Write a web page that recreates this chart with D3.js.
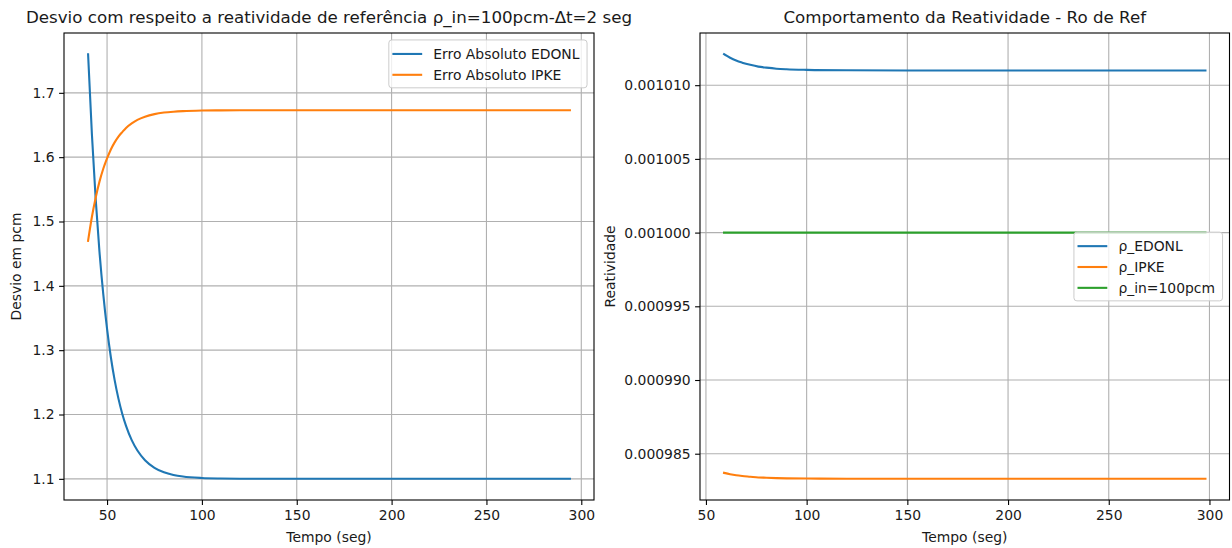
<!DOCTYPE html>
<html>
<head>
<meta charset="utf-8">
<script src="https://cdn.jsdelivr.net/npm/d3@7"></script>
<style>
  html, body { margin: 0; padding: 0; background: #ffffff; }
  svg { display: block; }
  text { font-family: "DejaVu Sans", sans-serif; fill: #1a1a1a; }
</style>
</head>
<body>
<svg id="chart" width="1232" height="548"></svg>
<script>
// Left panel: absolute deviation (pcm) versus time
const leftTime  = [40, 42, 44, 46, 48, 50, 52, 54, 56, 58, 60, 63, 66, 70, 75, 80, 85, 90, 100, 110, 120, 150, 200, 250, 294];
const errEDONL  = [1.760, 1.636, 1.535, 1.453, 1.387, 1.333, 1.289, 1.2535, 1.2247, 1.2012, 1.1822, 1.1601, 1.144, 1.129, 1.1172, 1.1102, 1.1061, 1.1036, 1.1013, 1.1005, 1.1002, 1.1001, 1.1001, 1.1001, 1.1001];
const errIPKE   = [1.470, 1.507, 1.537, 1.562, 1.582, 1.598, 1.612, 1.623, 1.632, 1.639, 1.6455, 1.6526, 1.658, 1.6629, 1.6669, 1.6693, 1.6707, 1.6716, 1.6725, 1.6728, 1.673, 1.673, 1.673, 1.673, 1.673];

// Right panel: reactivity versus time
const rightTime = [59, 62, 65, 68, 72, 76, 80, 85, 90, 100, 120, 150, 200, 250, 298];
const rhoEDONL  = [0.0010121, 0.00101186, 0.00101167, 0.00101153, 0.00101138, 0.00101126, 0.00101119, 0.00101112, 0.00101108, 0.00101104, 0.00101101, 0.0010110, 0.0010110, 0.0010110, 0.0010110];
const rhoIPKE   = [0.00098370, 0.00098361, 0.00098354, 0.00098349, 0.00098344, 0.00098339, 0.00098337, 0.000983345, 0.00098333, 0.000983315, 0.0009833, 0.0009833, 0.0009833, 0.0009833, 0.0009833];
const rhoIn     = [0.001, 0.001, 0.001, 0.001, 0.001, 0.001, 0.001, 0.001, 0.001, 0.001, 0.001, 0.001, 0.001, 0.001, 0.001];

// Tick values
const xTicks      = [50, 100, 150, 200, 250, 300];
const leftYTicks  = [1.1, 1.2, 1.3, 1.4, 1.5, 1.6, 1.7];
const rightYTicks = [0.000985, 0.000990, 0.000995, 0.001000, 0.001005, 0.001010];

// Text
const leftTitle   = "Desvio com respeito a reatividade de referência ρ_in=100pcm-Δt=2 seg";
const rightTitle  = "Comportamento da Reatividade - Ro de Ref";
const xLabel      = "Tempo (seg)";
const leftYLabel  = "Desvio em pcm";
const rightYLabel = "Reatividade";
const leftNames   = ["Erro Absoluto EDONL", "Erro Absoluto IPKE"];
const rightNames  = ["ρ_EDONL", "ρ_IPKE", "ρ_in=100pcm"];

const palette = ["#1f77b4", "#ff7f0e", "#2ca02c"];
const FS = 13.9;        // tick / label / legend font size
const TITLE_FS = 16.7;  // title font size

const svg = d3.select("#chart");
svg.append("rect").attr("width", 1232).attr("height", 548).attr("fill", "#ffffff");

function padded(values) {
  const [lo, hi] = d3.extent(values);
  const m = (hi - lo) * 0.05;
  return [lo - m, hi + m];
}

function drawPanel(cfg) {
  const { box, times, series, names, yTicks, yFmt, title, yLabel, yLabelX, legendPos } = cfg;
  const g = svg.append("g");

  const x = d3.scaleLinear().domain(padded(times)).range([box.x0, box.x1]);
  const y = d3.scaleLinear().domain(padded(series.flat())).range([box.y1, box.y0]);

  const clipId = "clip" + Math.round(box.x0);
  svg.append("clipPath").attr("id", clipId)
    .append("rect").attr("x", box.x0).attr("y", box.y0)
    .attr("width", box.x1 - box.x0).attr("height", box.y1 - box.y0);

  // grid
  g.append("g").selectAll("line").data(xTicks).join("line")
    .attr("x1", d => x(d)).attr("x2", d => x(d))
    .attr("y1", box.y0).attr("y2", box.y1)
    .attr("stroke", "#b0b0b0").attr("stroke-width", 1.1);
  g.append("g").selectAll("line").data(yTicks).join("line")
    .attr("x1", box.x0).attr("x2", box.x1)
    .attr("y1", d => y(d)).attr("y2", d => y(d))
    .attr("stroke", "#b0b0b0").attr("stroke-width", 1.1);

  // series
  const line = d3.line().curve(d3.curveMonotoneX);
  const plot = g.append("g").attr("clip-path", `url(#${clipId})`);
  series.forEach((vals, i) => {
    plot.append("path")
      .attr("d", line(times.map((t, k) => [x(t), y(vals[k])])))
      .attr("fill", "none").attr("stroke", palette[i])
      .attr("stroke-width", 2.1).attr("stroke-linecap", "square");
  });

  // axes
  const xAxis = d3.axisBottom(x).tickValues(xTicks).tickSize(4.9).tickPadding(4.5).tickFormat(d3.format("d"));
  const yAxis = d3.axisLeft(y).tickValues(yTicks).tickSize(4.9).tickPadding(4.5).tickFormat(d3.format(yFmt));
  const ga = g.append("g").attr("transform", `translate(0,${box.y1})`).call(xAxis);
  const gb = g.append("g").attr("transform", `translate(${box.x0},0)`).call(yAxis);
  [ga, gb].forEach(a => {
    a.select(".domain").remove();
    a.selectAll("line").attr("stroke", "#000").attr("stroke-width", 1.1);
    a.selectAll("text").attr("font-size", FS).attr("fill", "#1a1a1a")
      .attr("font-family", '"DejaVu Sans", sans-serif');
  });
  ga.selectAll("text").attr("dy", "0.76em");

  // frame
  g.append("rect").attr("x", box.x0).attr("y", box.y0)
    .attr("width", box.x1 - box.x0).attr("height", box.y1 - box.y0)
    .attr("fill", "none").attr("stroke", "#000").attr("stroke-width", 1.1);

  // titles and labels
  g.append("text").attr("x", (box.x0 + box.x1) / 2).attr("y", 23)
    .attr("text-anchor", "middle").attr("font-size", TITLE_FS).text(title);
  g.append("text").attr("x", (box.x0 + box.x1) / 2).attr("y", 542)
    .attr("text-anchor", "middle").attr("font-size", FS).text(xLabel);
  g.append("text").attr("transform", `translate(${yLabelX},${(box.y0 + box.y1) / 2}) rotate(-90)`)
    .attr("text-anchor", "middle").attr("font-size", FS).text(yLabel);

  // legend
  const pad = 0.4 * FS, handle = 2 * FS, gap = 0.8 * FS, rowH = 1.5 * FS;
  const lg = g.append("g");
  const frame = lg.append("rect");
  const labels = names.map((n, i) => lg.append("text").attr("font-size", FS).text(n));
  const textW = d3.max(labels, t => t.node().getComputedTextLength());
  const w = pad * 2 + handle + gap + textW + 2;
  const h = pad * 2 + rowH * names.length - 0.5 * FS + 2;
  const lx = box.x1 - 0.5 * FS - w;
  const ly = legendPos === "upper right"
    ? box.y0 + 0.5 * FS
    : (box.y0 + box.y1) / 2 - h / 2;
  frame.attr("x", lx).attr("y", ly).attr("width", w).attr("height", h)
    .attr("rx", 3).attr("ry", 3)
    .attr("fill", "#ffffff").attr("fill-opacity", 0.8)
    .attr("stroke", "#cccccc").attr("stroke-width", 1);
  names.forEach((n, i) => {
    const cy = ly + pad + 1 + FS * 0.5 + i * rowH + 0.5;
    lg.append("line").attr("x1", lx + pad - 2).attr("x2", lx + pad - 2 + handle + 2)
      .attr("y1", cy).attr("y2", cy)
      .attr("stroke", palette[i]).attr("stroke-width", 2.1);
    labels[i].attr("x", lx + pad + handle + gap).attr("y", cy + 5);
  });
}

drawPanel({
  box: { x0: 64, x1: 594, y0: 33, y1: 500 },
  times: leftTime,
  series: [errEDONL, errIPKE],
  names: leftNames,
  yTicks: leftYTicks,
  yFmt: ".1f",
  title: leftTitle,
  yLabel: leftYLabel,
  yLabelX: 21,
  legendPos: "upper right"
});

drawPanel({
  box: { x0: 700, x1: 1229.5, y0: 33, y1: 500 },
  times: rightTime,
  series: [rhoEDONL, rhoIPKE, rhoIn],
  names: rightNames,
  yTicks: rightYTicks,
  yFmt: ".6f",
  title: rightTitle,
  yLabel: rightYLabel,
  yLabelX: 615,
  legendPos: "center right"
});
</script>
</body>
</html>
